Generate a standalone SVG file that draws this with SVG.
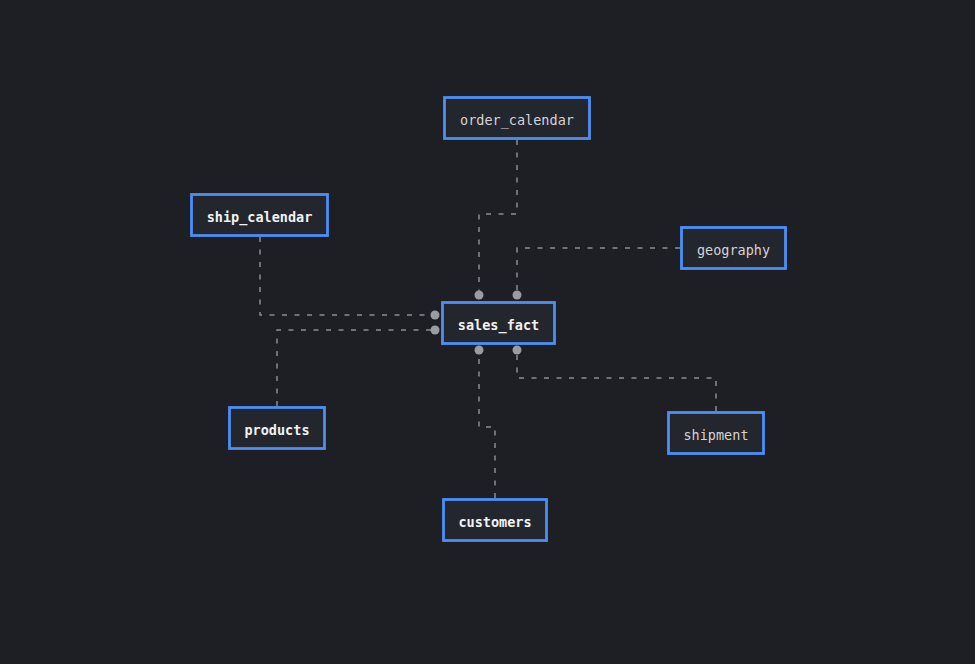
<svg xmlns="http://www.w3.org/2000/svg" width="975" height="664" viewBox="0 0 975 664">
  <style>
    .bg { fill: #1e1f24; }
    .box { fill: #24262e; stroke: #4d8ef5; stroke-width: 2.8; }
    .lbl { font-family: "DejaVu Sans Mono", "Liberation Mono", monospace; font-size: 13.5px; text-anchor: middle; dominant-baseline: central; }
    .main { fill: #f2f2f2; font-weight: bold; }
    .sub { fill: #d4d4d7; }
    .link { fill: none; stroke: #8c8c90; stroke-width: 1.5; stroke-dasharray: 5 7.5; }
    .end { fill: #9b9ba0; }
  </style>
  <rect class="bg" x="0" y="0" width="975" height="664"/>

  <g id="connectors">
    <path class="link" d="M517 140 V214 H479 V295"/>
    <path class="link" d="M680 248 H517 V295"/>
    <path class="link" d="M260 237 V315 H435"/>
    <path class="link" d="M277 406 V330 H435"/>
    <path class="link" d="M716 411 V378 H517 V350"/>
    <path class="link" d="M495 498 V427 H479 V350"/>
    <circle class="end" cx="479" cy="295" r="4.5"/>
    <circle class="end" cx="517" cy="295" r="4.5"/>
    <circle class="end" cx="435" cy="315" r="4.5"/>
    <circle class="end" cx="435" cy="330" r="4.5"/>
    <circle class="end" cx="479" cy="350" r="4.5"/>
    <circle class="end" cx="517" cy="350" r="4.5"/>
  </g>

  <g id="order_calendar">
    <rect class="box" x="444.5" y="97.5" width="145" height="41"/>
    <text class="lbl sub" x="517" y="120">order_calendar</text>
  </g>
  <g id="ship_calendar">
    <rect class="box" x="191.5" y="194.5" width="136" height="41"/>
    <text class="lbl main" x="259.5" y="217">ship_calendar</text>
  </g>
  <g id="geography">
    <rect class="box" x="681.5" y="227.5" width="104" height="41"/>
    <text class="lbl sub" x="733.5" y="250">geography</text>
  </g>
  <g id="sales_fact">
    <rect class="box" x="442.5" y="302.5" width="112" height="41"/>
    <text class="lbl main" x="498.5" y="325">sales_fact</text>
  </g>
  <g id="products">
    <rect class="box" x="229.5" y="407.5" width="95" height="41"/>
    <text class="lbl main" x="277" y="430">products</text>
  </g>
  <g id="shipment">
    <rect class="box" x="668.5" y="412.5" width="95" height="41"/>
    <text class="lbl sub" x="716" y="435">shipment</text>
  </g>
  <g id="customers">
    <rect class="box" x="443.5" y="499.5" width="103" height="41"/>
    <text class="lbl main" x="495" y="522">customers</text>
  </g>
</svg>
